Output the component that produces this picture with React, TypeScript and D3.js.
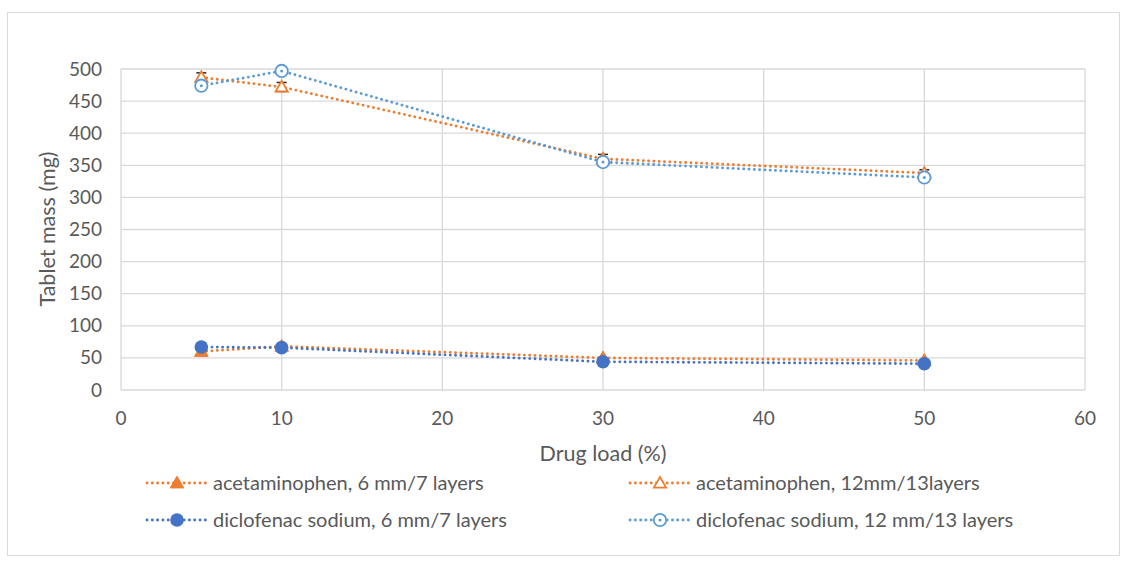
import React from "react";
import * as d3 from "d3";

// drug load (%)
const loads = [5, 10, 30, 50];
const acet6 = [60, 68, 50, 46];
const acet12 = [487, 472, 360, 338];
const acet12Err = [7, 7, 7, 5];
const diclo6 = [67, 66, 44, 41];
const diclo12 = [474, 497, 355, 331];

const xTicks = [0, 10, 20, 30, 40, 50, 60];
const yTicks = [0, 50, 100, 150, 200, 250, 300, 350, 400, 450, 500];

const ORANGE = "#ED7D31";
const LBLUE = "#5B9BD5";
const DBLUE = "#4472C4";
const GRID = "#D9D9D9";
const TXT = "#595959";
const FONT = "Lato, 'Open Sans', sans-serif";

const series = [
  { name: "acetaminophen, 6 mm/7 layers", vals: acet6, color: ORANGE, shape: "tri", filled: true },
  { name: "acetaminophen, 12mm/13layers", vals: acet12, color: ORANGE, shape: "tri", filled: false },
  { name: "diclofenac sodium, 6 mm/7 layers", vals: diclo6, color: DBLUE, shape: "circ", filled: true },
  { name: "diclofenac sodium, 12 mm/13 layers", vals: diclo12, color: LBLUE, shape: "circ", filled: false },
];

function Marker({ s, x, y }: { s: any; x: number; y: number }) {
  if (s.shape === "tri") {
    const p = d3.symbol(d3.symbolTriangle, s.filled ? 80 : 65)();
    return (
      <path
        d={p || ""}
        transform={`translate(${x},${y + 1})`}
        fill={s.filled ? s.color : "white"}
        stroke={s.color}
        strokeWidth={s.filled ? 1 : 1.8}
      />
    );
  }
  return s.filled ? (
    <circle cx={x} cy={y} r={6.8} fill={s.color} />
  ) : (
    <g>
      <circle cx={x} cy={y} r={6.2} fill="white" stroke={s.color} strokeWidth={1.8} />
      <circle cx={x} cy={y} r={1.5} fill={s.color} />
    </g>
  );
}

export default function App() {
  const x = d3.scaleLinear().domain([0, 60]).range([121, 1085]);
  const y = d3.scaleLinear().domain([0, 500]).range([390, 69]);
  const line = d3
    .line<number>()
    .x((_, i) => x(loads[i]))
    .y((d) => y(d));

  const order = [0, 1, 3, 2];
  const legend = [
    { s: series[0], lx: 147, ly: 483 },
    { s: series[1], lx: 630, ly: 483 },
    { s: series[2], lx: 147, ly: 520 },
    { s: series[3], lx: 630, ly: 520 },
  ];

  return (
    <svg
      width={1126}
      height={561}
      style={{ position: "absolute", left: 0, top: 0, background: "white" }}
      fontFamily={FONT}
    >
      <rect x={7.5} y={12.5} width={1112} height={543} fill="white" stroke={GRID} />
      {yTicks.map((t) => (
        <g key={t}>
          <line x1={121} x2={1085} y1={y(t)} y2={y(t)} stroke={GRID} strokeWidth={1.3} />
          <text x={102} y={y(t) + 6.5} textAnchor="end" fontSize={19} fill={TXT}>
            {t}
          </text>
        </g>
      ))}
      {xTicks.map((t) => (
        <g key={t}>
          <line x1={x(t)} x2={x(t)} y1={69} y2={390} stroke={GRID} strokeWidth={1.3} />
          <text x={x(t)} y={425} textAnchor="middle" fontSize={19} fill={TXT}>
            {t}
          </text>
        </g>
      ))}
      <text x={603} y={461} textAnchor="middle" fontSize={21.5} fill={TXT}>
        Drug load (%)
      </text>
      <text
        transform={`translate(55,229) rotate(-90)`}
        textAnchor="middle"
        fontSize={21.5}
        fill={TXT}
      >
        Tablet mass (mg)
      </text>

      {order.map((k) => {
        const s = series[k];
        return (
          <path
            key={"l" + k}
            d={line(s.vals) || ""}
            fill="none"
            stroke={s.color}
            strokeWidth={2.8}
            strokeDasharray="0.1 5.2"
            strokeLinecap="round"
          />
        );
      })}
      {acet12.map((v, i) => {
        const cx = x(loads[i]);
        return (
          <g key={"e" + i} stroke="#262626" strokeWidth={1.5}>
            <line x1={cx} x2={cx} y1={y(v + acet12Err[i])} y2={y(v - acet12Err[i])} />
            <line x1={cx - 5} x2={cx + 5} y1={y(v + acet12Err[i])} y2={y(v + acet12Err[i])} />
            <line x1={cx - 5} x2={cx + 5} y1={y(v - acet12Err[i])} y2={y(v - acet12Err[i])} />
          </g>
        );
      })}
      {order.map((k) => {
        const s = series[k];
        return (
          <g key={"m" + k}>
            {s.vals.map((v, i) => (
              <Marker key={i} s={s} x={x(loads[i])} y={y(v)} />
            ))}
          </g>
        );
      })}

      {legend.map(({ s, lx, ly }) => (
        <g key={s.name}>
          <line
            x1={lx}
            x2={lx + 60}
            y1={ly}
            y2={ly}
            stroke={s.color}
            strokeWidth={2.8}
            strokeDasharray="0.1 5.2"
            strokeLinecap="round"
          />
          <Marker s={s} x={lx + 30} y={ly} />
          <text x={lx + 66} y={ly + 7} fontSize={20} fill={TXT}>
            {s.name}
          </text>
        </g>
      ))}
    </svg>
  );
}
